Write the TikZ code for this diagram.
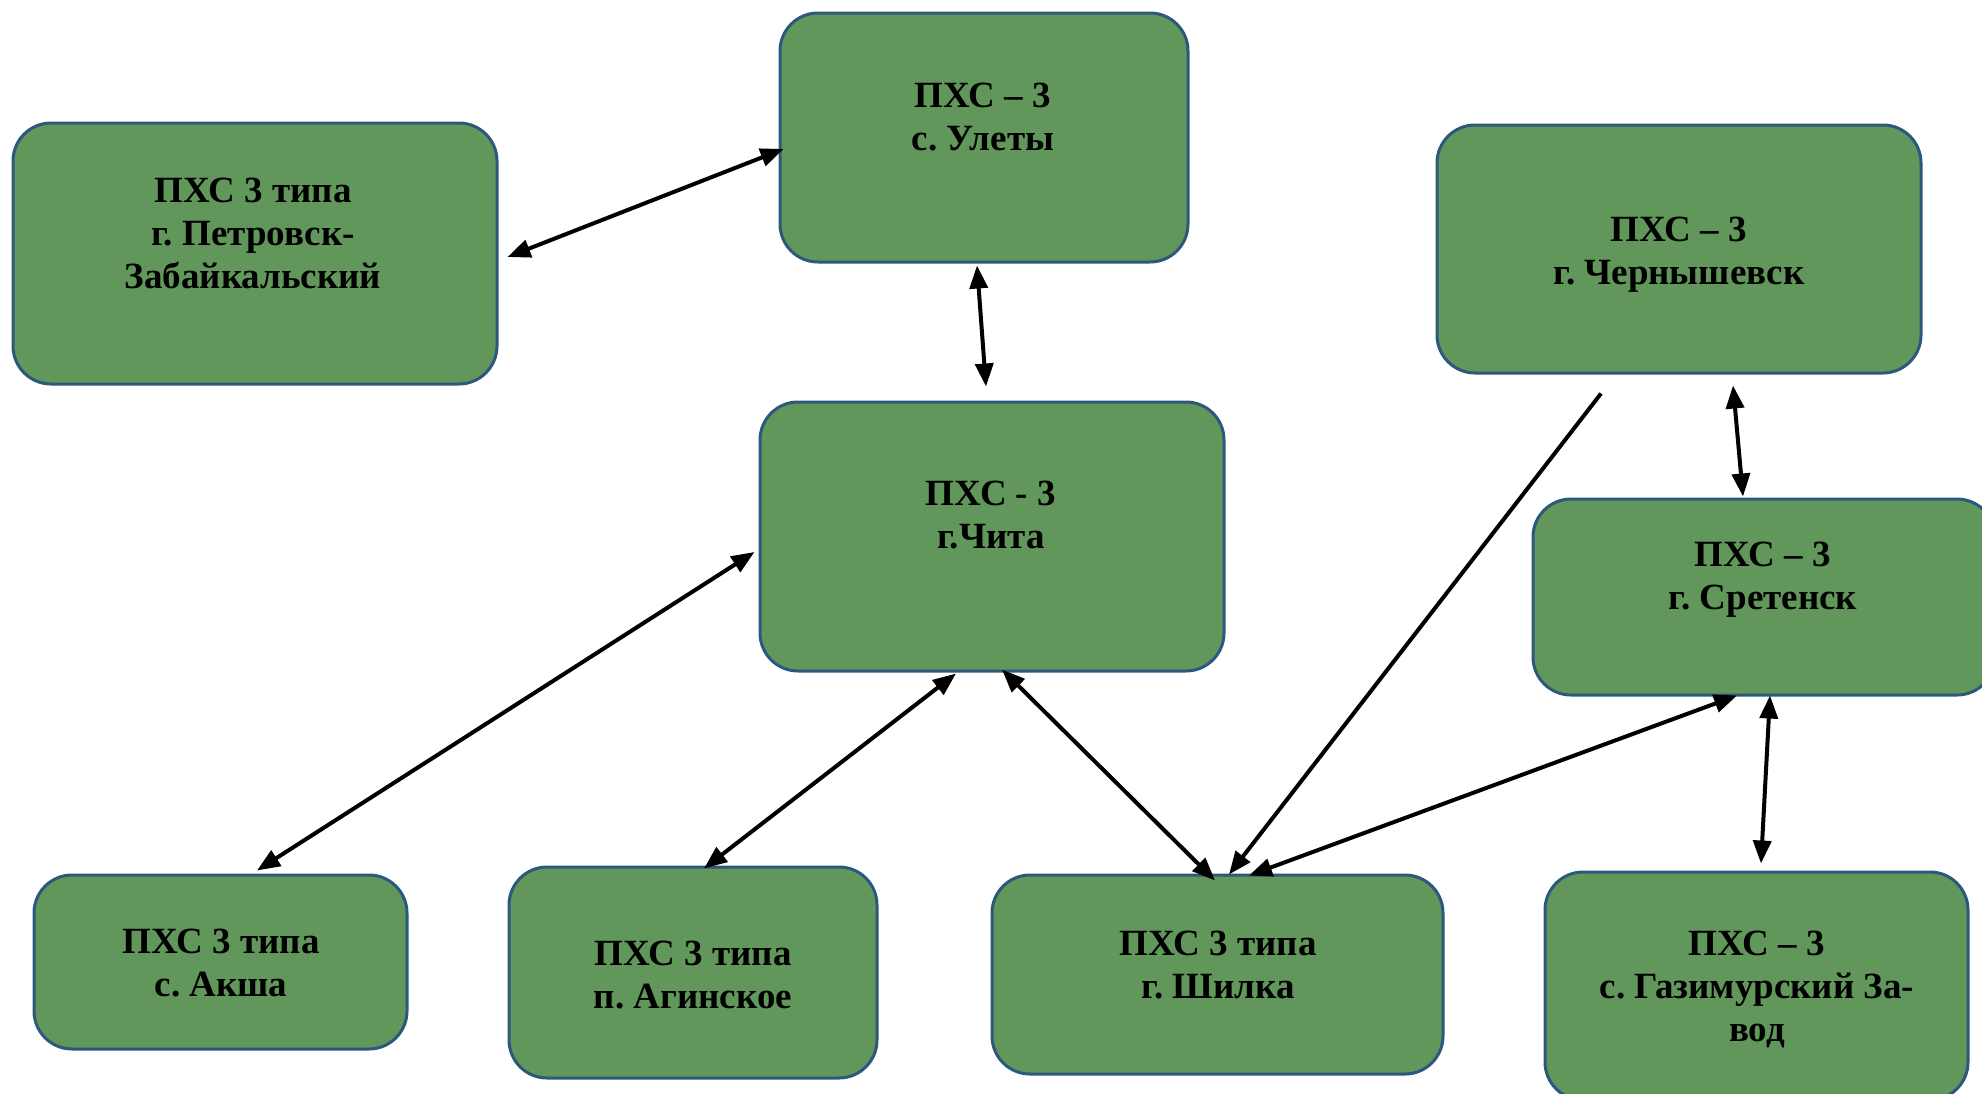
\documentclass[tikz,border=0pt]{standalone}
\usepackage{fontspec}
\setmainfont{Liberation Serif}
\usetikzlibrary{arrows.meta}
\definecolor{boxfill}{RGB}{97,151,90}
\definecolor{boxline}{RGB}{45,88,125}
\tikzset{
  box/.style={draw=boxline, fill=boxfill, line width=3pt, rounded corners=38pt, inner sep=0pt},
  lbl/.style={font=\fontsize{37}{43}\selectfont\bfseries\frenchspacing, align=center, inner sep=0pt, text=black},
  tipA/.tip={Triangle[length=23pt,width=18pt]},
  biarr/.style={line width=4pt, tipA-tipA},
  uniarr/.style={line width=4pt, -tipA},
}
\begin{document}
\begin{tikzpicture}[x=1pt,y=-1pt]
\clip (0,0) rectangle (1982,1093);
\fill[white] (0,0) rectangle (1982,1093);
% boxes
\node[box, minimum width=484pt, minimum height=261pt] (pet) at (255,253.5) {};
\node[box, minimum width=408pt, minimum height=249pt] (ule) at (984,137.5) {};
\node[box, minimum width=484pt, minimum height=248pt] (che) at (1679,249) {};
\node[box, minimum width=464pt, minimum height=269pt] (chi) at (992,536.5) {};
\node[box, minimum width=462pt, minimum height=196pt] (sre) at (1764,597) {};
\node[box, minimum width=373pt, minimum height=174pt] (aks) at (220.5,962) {};
\node[box, minimum width=368pt, minimum height=211pt] (agi) at (693,972.5) {};
\node[box, minimum width=451pt, minimum height=199pt] (shi) at (1217.5,974.5) {};
\node[box, minimum width=423pt, minimum height=228pt] (gaz) at (1756.5,986) {};
% labels
\node[lbl] (tpet) at (253,233) {ПХС 3 типа\\г. Петровск-\\Забайкальский};
\node[lbl] (tule) at (983,117) {ПХС – 3\\с. Улеты};
\node[lbl] (tche) at (1679,255) {ПХС – 3\\г. Чернышевск};
\node[lbl] (tchi) at (991,515) {ПХС - 3\\г.Чита};
\node[lbl] (tsre) at (1763,580) {ПХС – 3\\г. Сретенск};
\node[lbl] (taks) at (221,963) {ПХС 3 типа\\с. Акша};
\node[lbl] (tagi) at (693,975) {ПХС 3 типа\\п. Агинское};
\node[lbl] (tshi) at (1218,965) {ПХС 3 типа\\г. Шилка};
\node[lbl] (tgaz) at (1757,989) {ПХС – 3\\с. Газимурский За-\\вод};
% connectors
\draw[biarr] ([shift={(9,3.5)}]pet.east) -- ([shift={(5,11.5)}]ule.west);
\draw[biarr] ([shift={(-7,2)}]ule.south) -- ([shift={(-6,-14)}]chi.north);
\draw[biarr] ([shift={(-4,15.5)}]chi.west) -- ([shift={(36.5,-3)}]aks.north);
\draw[biarr] ([shift={(-36,1)}]chi.south) -- ([shift={(11,3)}]agi.north);
\draw[biarr] ([shift={(10,-3)}]chi.south) -- ([shift={(-2.5,7)}]shi.north);
\draw[uniarr] ([shift={(-78,19)}]che.south) -- ([shift={(11.5,1)}]shi.north);
\draw[biarr] ([shift={(-27,-1)}]sre.south) -- ([shift={(31.5,2)}]shi.north);
\draw[biarr] ([shift={(54,11)}]che.south) -- ([shift={(-21,-1)}]sre.north);
\draw[biarr] ([shift={(6,-1)}]sre.south) -- ([shift={(4.5,-7)}]gaz.north);
\end{tikzpicture}
\end{document}
